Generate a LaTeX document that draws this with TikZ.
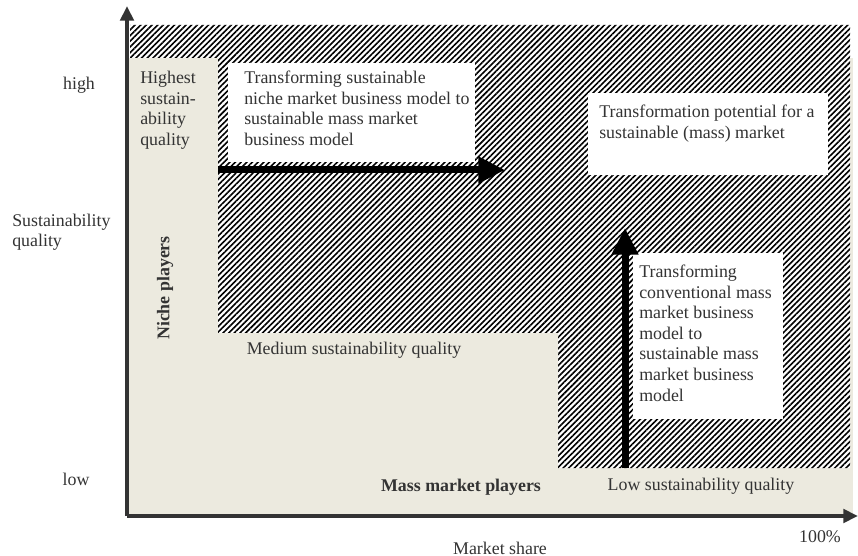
\documentclass[tikz,border=0pt]{standalone}
\usepackage{fontspec}
\setmainfont{Liberation Serif}
\usepackage{xcolor}
\usepackage{tikz}
\usetikzlibrary{arrows.meta,patterns.meta,positioning}
\definecolor{beige}{HTML}{ECEADF}
\definecolor{ink}{HTML}{333333}

\begin{document}
\begin{tikzpicture}[x=0.75pt,y=-0.75pt,
    every node/.style={font=\fontsize{13.4}{15.4}\selectfont,text=ink,inner sep=0pt},
    lbl/.style={align=left,anchor=north west},
    whitebox/.style={fill=white,anchor=north west},
    axis/.style={draw=ink,line width=3pt,-{Triangle[length=11pt,width=10pt]}},
    bigarrow/.style={draw=black,line width=5.25pt,-{Triangle[length=20pt,width=19pt]}}]
    \useasboundingbox (0,0) rectangle (858,556);
    \fill[beige] (129,58) rectangle (853,515);
    \fill[white,postaction={pattern={Lines[angle=45,distance=3pt,line width=1.2pt]}}]
      (130,25) -- (850,25) -- (850,468) -- (558,468) -- (558,333) -- (218,333) -- (218,58) -- (130,58) -- cycle;
    \node[whitebox,minimum width=185pt,minimum height=74pt] (box1) at (228,63) {};
    \node[whitebox,minimum width=180pt,minimum height=61.5pt] (box2) at (588,93) {};
    \node[whitebox,minimum width=112pt,minimum height=124pt] (box3) at (633,253) {};
    \node[lbl] (t1) at ([shift={(16,8)}]box1.north west) {Transforming sustainable\\niche market business model to\\sustainable mass market\\business model};
    \node[lbl] (t2) at ([shift={(11,12)}]box2.north west) {Transformation potential for a\\sustainable (mass) market};
    \node[lbl] (t3) at ([shift={(6,12)}]box3.north west) {Transforming\\conventional mass\\market business\\model to\\sustainable mass\\market business\\model};
    \coordinate (na) at (218,170);
    \coordinate (nb) at (505,170);
    \coordinate (ma) at (625,468);
    \coordinate (mb) at (625,228);
    \draw[bigarrow] (na) -- (nb);
    \draw[bigarrow] (ma) -- (mb);
    \coordinate (o) at (127,516);
    \coordinate (ytop) at (127,6);
    \coordinate (xend) at (858,516);
    \draw[axis] (o) -- (ytop);
    \draw[axis] (o) -- (xend);
    \node[lbl] (hq) at (140,71) {Highest\\sustain-\\ability\\quality};
    \node[rotate=90,font=\fontsize{13.4}{15.4}\selectfont\bfseries] (niche) at (165,288) {Niche players};
    \node (med) at (354,350) {Medium sustainability quality};
    \node[font=\fontsize{13.4}{15.4}\selectfont\bfseries] (mass) at (461,487) {Mass market players};
    \node (lowq) at (701,486) {Low sustainability quality};
    \node (high) at (79,85) {high};
    \node[align=left,anchor=west] (sq) at (12,232) {Sustainability\\quality};
    \node (low) at (76,479) {low};
    \node (ms) at (500,548) {Market share};
    \node (full) at (820,537) {100\%};
\end{tikzpicture}
\end{document}
